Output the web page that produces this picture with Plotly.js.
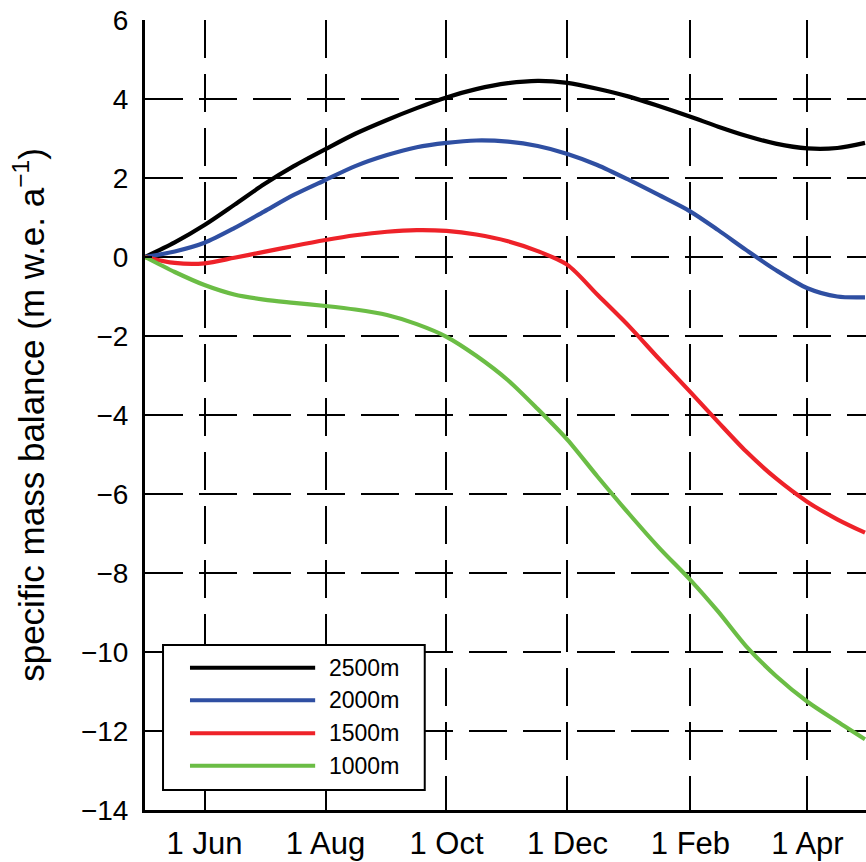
<!DOCTYPE html>
<html>
<head>
<meta charset="utf-8">
<script src="https://cdn.plot.ly/plotly-3.0.1.min.js"></script>
<style>
  html, body { margin: 0; padding: 0; background: #ffffff; }
  #chart { width: 866px; height: 862px; }
</style>
</head>
<body>
<div id="chart"></div>
<script>
// ---- data ----
const dates = ['2001-05-02','2001-05-17','2001-06-01','2001-06-16','2001-07-01','2001-07-16',
  '2001-08-01','2001-08-16','2001-09-01','2001-09-16','2001-10-01','2001-10-16',
  '2001-11-01','2001-11-16','2001-12-01','2001-12-16','2002-01-01','2002-01-16',
  '2002-02-01','2002-02-15','2002-03-01','2002-03-16','2002-04-01','2002-04-16','2002-04-30'];

const mb2500 = [0, 0.37, 0.81, 1.32, 1.84, 2.30, 2.73, 3.12, 3.47, 3.77, 4.04, 4.25,
  4.40, 4.46, 4.41, 4.26, 4.06, 3.82, 3.55, 3.30, 3.07, 2.87, 2.75, 2.76, 2.89];
const mb2000 = [0, 0.14, 0.36, 0.73, 1.15, 1.57, 1.95, 2.30, 2.58, 2.78, 2.89, 2.95,
  2.92, 2.81, 2.61, 2.33, 1.95, 1.57, 1.15, 0.68, 0.18, -0.33, -0.79, -1.00, -1.02];
const mb1500 = [0, -0.15, -0.16, -0.02, 0.13, 0.28, 0.43, 0.55, 0.64, 0.68, 0.66, 0.57,
  0.40, 0.15, -0.2, -0.95, -1.75, -2.57, -3.42, -4.18, -4.92, -5.6, -6.2, -6.64, -6.98];
const mb1000 = [0, -0.38, -0.71, -0.95, -1.08, -1.16, -1.24, -1.33, -1.47, -1.70, -2.02, -2.50,
  -3.12, -3.85, -4.63, -5.55, -6.5, -7.35, -8.18, -8.98, -9.85, -10.6, -11.26, -11.76, -12.21];

const seriesNames = ['2500m', '2000m', '1500m', '1000m'];
const seriesValues = [mb2500, mb2000, mb1500, mb1000];
const seriesColors = ['#000000', '#2f4fa2', '#ee2229', '#6bbd45'];

const xTickVals = ['2001-06-01','2001-08-01','2001-10-01','2001-12-01','2002-02-01','2002-04-01'];
const xTickText = ['1 Jun', '1 Aug', '1 Oct', '1 Dec', '1 Feb', '1 Apr'];

// ---- traces ----
const traces = seriesNames.map((name, i) => ({
  type: 'scatter',
  mode: 'lines',
  name: name,
  x: dates,
  y: seriesValues[i],
  line: { color: seriesColors[i], width: 4.2, shape: 'spline', smoothing: 0.8 },
  showlegend: false
}));

// ---- custom legend (box with long line samples) ----
const shapes = [{
  type: 'rect', xref: 'paper', yref: 'paper',
  x0: 0.025, x1: 0.388, y0: 0.0253, y1: 0.209,
  line: { color: '#000000', width: 2 }, fillcolor: '#ffffff', layer: 'above'
}];
const annotations = [];
const rowY = [0.180, 0.139, 0.097, 0.056];
seriesNames.forEach((name, i) => {
  shapes.push({
    type: 'line', xref: 'paper', yref: 'paper',
    x0: 0.0624, x1: 0.236, y0: rowY[i], y1: rowY[i],
    line: { color: seriesColors[i], width: 4 }, layer: 'above'
  });
  annotations.push({
    xref: 'paper', yref: 'paper', x: 0.252, y: rowY[i],
    xanchor: 'left', yanchor: 'middle', showarrow: false,
    text: name, font: { family: 'Liberation Sans, Arial, sans-serif', size: 23, color: '#000000' }
  });
});

const fam = 'Liberation Sans, Arial, Helvetica, sans-serif';
const xFont = { family: fam, size: 31, color: '#000000' };
const yFont = { family: fam, size: 28, color: '#000000' };
const titleFont = { family: fam, size: 35, color: '#000000' };

const layout = {
  width: 866, height: 862,
  margin: { l: 145, r: 0, t: 20, b: 52, pad: 0 },
  paper_bgcolor: '#ffffff', plot_bgcolor: '#ffffff',
  font: yFont,
  showlegend: false,
  xaxis: {
    type: 'date',
    range: ['2001-05-02', '2002-04-30 12:00'],
    tickmode: 'array', tickvals: xTickVals, ticktext: xTickText,
    ticks: 'inside', ticklen: 7, tickwidth: 2, tickcolor: '#000000',
    showline: true, linecolor: '#000000', linewidth: 3,
    showgrid: true, gridcolor: '#000000', gridwidth: 2, griddash: '38px,16px',
    zeroline: false, tickfont: xFont, ticklabelstandoff: 4
  },
  yaxis: {
    range: [-14, 6], dtick: 2, tick0: 0,
    ticks: 'inside', ticklen: 7, tickwidth: 2, tickcolor: '#000000',
    showline: true, linecolor: '#000000', linewidth: 3,
    showgrid: true, gridcolor: '#000000', gridwidth: 2, griddash: '38px,16px',
    zeroline: false, tickfont: yFont, ticklabelstandoff: 8,
    title: { text: 'specific mass balance (m w.e. a<sup>\u22121</sup>)', font: titleFont, standoff: 26 }
  },
  shapes: shapes,
  annotations: annotations
};

Plotly.newPlot('chart', traces, layout, { displayModeBar: false, staticPlot: true });
</script>
</body>
</html>
